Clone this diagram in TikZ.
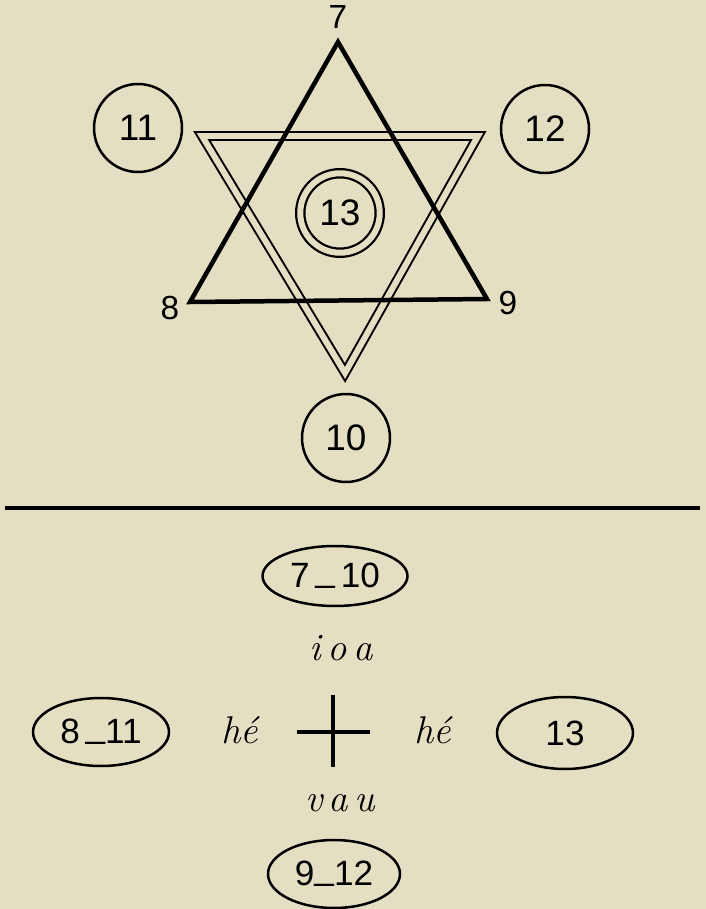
\documentclass[tikz,border=0pt]{standalone}
\usepackage{fontspec}
\setsansfont{Liberation Sans}
\usetikzlibrary{shapes.geometric}
\definecolor{paper}{RGB}{228,223,194}

\begin{document}
\begin{tikzpicture}[x=0.02cm,y=-0.02cm]
    \tikzset{ring/.style = {shape=circle,draw,line width=0.05cm,minimum size=1.76cm,inner sep=0pt,font=\sffamily\fontsize{21}{24}\selectfont}}
    \tikzset{ring2/.style = {shape=circle,draw,double=paper,double distance=0.12cm,line width=0.045cm,minimum size=1.59cm,inner sep=0pt,font=\sffamily\fontsize{21}{24}\selectfont}}
    \tikzset{oval/.style = {shape=ellipse,draw,line width=0.05cm,minimum width=2.72cm,minimum height=1.36cm,inner sep=0pt,font=\sffamily\fontsize{20}{24}\selectfont}}
    \tikzset{num/.style = {shape=rectangle,draw=none,inner sep=0pt,font=\sffamily\fontsize{19}{22}\selectfont}}
    \tikzset{word/.style = {shape=rectangle,draw=none,inner sep=0pt,font=\itshape\fontsize{22}{24}\selectfont}}
    \tikzset{edge/.style = {-,line width=0.09cm,line join=miter}}
    \tikzset{edge2/.style = {-,line width=0.04cm,double=paper,double distance=0.12cm,line join=miter}}
    \newcommand{\dash}{\raisebox{0.18em}{\_}}

    \fill[paper] (0,0) rectangle (706,909);
    \useasboundingbox (0,0) rectangle (706,909);

    % vertices

    \coordinate (a7) at (338,42);
    \coordinate (a8) at (190,302);
    \coordinate (a9) at (487,299);
    \coordinate (d1) at (202,136);
    \coordinate (d2) at (478,136);
    \coordinate (d3) at (345,373);

    \node[num] (n7) at (338,17) {7};
    \node[num] (n8) at (170,308) {8};
    \node[num] (n9) at (508,303) {9};

    \node[ring] (c11) at (138,128) {11};
    \node[ring] (c12) at (545,129) {12};
    \node[ring] (c10) at (346,438) {10};
    \node[ring2] (c13) at (340,213) {13};

    \coordinate (l1) at (5,508);
    \coordinate (l2) at (700,508);

    \node[oval,minimum width=2.9cm,minimum height=1.2cm] (e710) at (335,576) {7\,\dash\,10};
    \node[word] (ioa) at (341,648) {i\,o\,a};
    \node[oval] (e811) at (101,732) {8\,\dash11};
    \node[word] (he1) at (240,730) {hé};
    \node[word] (he2) at (433,730) {hé};
    \node[oval,minimum height=1.44cm] (e13) at (565,733) {13};
    \node[word] (vau) at (340,803) {v\,a\,u};
    \node[oval,minimum width=2.64cm] (e912) at (334,874) {9\dash12};

    \coordinate (xt) at (333,695);
    \coordinate (xb) at (333,767);
    \coordinate (xl) at (297,732);
    \coordinate (xr) at (370,732);

       %edges
    \draw[edge2] (d1) -- (d2) -- (d3) -- cycle;
    \draw[edge] (a7) -- (a8) -- (a9) -- cycle;
    \draw[line width=0.09cm] (l1) -- (l2);
    \draw[line width=0.07cm] (xt) -- (xb);
    \draw[line width=0.07cm] (xl) -- (xr);
\end{tikzpicture}
\end{document}
